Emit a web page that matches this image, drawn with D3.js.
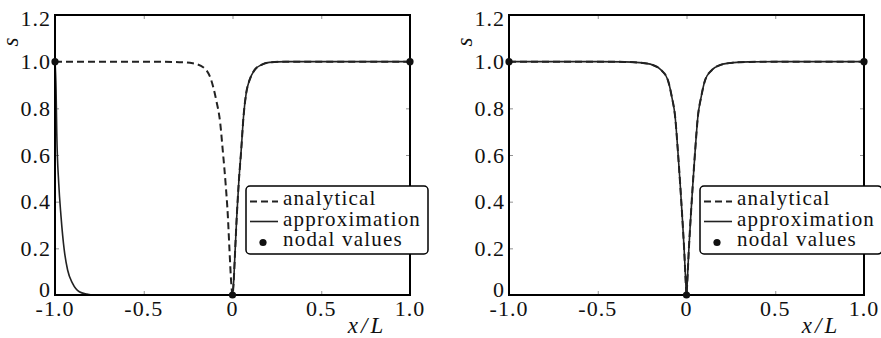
<!DOCTYPE html>
<html>
<head>
<meta charset="utf-8">
<script src="https://cdn.jsdelivr.net/npm/d3@7"></script>
<style>
  body { margin: 0; background: #fff; }
</style>
</head>
<body>
<div id="chart"></div>
<script>
// ticks
var xTicks = [-1, -0.5, 0, 0.5, 1];
var xTickLabels = ["-1.0", "-0.5", "0", "0.5", "1.0"];
var yTicks = [0, 0.2, 0.4, 0.6, 0.8, 1.0, 1.2];
var yTickLabels = ["0", "0.2", "0.4", "0.6", "0.8", "1.0", "1.2"];

// left panel: analytical (dashed) and approximation (solid); they coincide for x > 0
var leftAnaX = [-1, -0.5, -0.3, -0.224, -0.158, -0.12, -0.092, -0.069, -0.055, -0.039, -0.026, -0.017, -0.007, 0,
                0.006, 0.015, 0.024, 0.035, 0.049, 0.062, 0.077, 0.096, 0.124, 0.162, 0.208, 0.3, 0.5, 1];
var leftAnaS = [1, 1, 0.998, 0.993, 0.972, 0.921, 0.836, 0.736, 0.621, 0.479, 0.336, 0.193, 0.05, 0,
                0.05, 0.193, 0.336, 0.479, 0.621, 0.764, 0.864, 0.921, 0.964, 0.986, 0.997, 1, 1, 1];
var leftAppX = [-1, -0.994, -0.99, -0.979, -0.966, -0.948, -0.929, -0.901, -0.863, -0.82, -0.788, -0.5, 0,
                0.006, 0.015, 0.024, 0.035, 0.049, 0.062, 0.077, 0.096, 0.124, 0.162, 0.208, 0.3, 0.5, 1];
var leftAppS = [1, 0.879, 0.693, 0.479, 0.336, 0.193, 0.107, 0.05, 0.014, 0.004, 0, 0, 0,
                0.05, 0.193, 0.336, 0.479, 0.621, 0.764, 0.864, 0.921, 0.964, 0.986, 0.997, 1, 1, 1];

// right panel: both curves lie on top of each other
var rightAnaX = [-1, -0.5, -0.35, -0.265, -0.19, -0.143, -0.105, -0.083, -0.064, -0.049, -0.036, -0.024, -0.013, -0.004, 0,
                 0.004, 0.013, 0.024, 0.036, 0.049, 0.064, 0.083, 0.105, 0.143, 0.19, 0.265, 0.35, 0.5, 1];
var rightAnaS = [1, 1, 0.999, 0.996, 0.986, 0.964, 0.921, 0.85, 0.764, 0.621, 0.479, 0.336, 0.193, 0.05, 0,
                 0.05, 0.193, 0.336, 0.479, 0.621, 0.764, 0.85, 0.921, 0.964, 0.986, 0.996, 0.999, 1, 1];
var rightAppX = rightAnaX;
var rightAppS = [1, 1, 0.999, 0.996, 0.986, 0.964, 0.921, 0.85, 0.764, 0.621, 0.479, 0.336, 0.193, 0.05, 0,
                 0.05, 0.193, 0.336, 0.479, 0.621, 0.764, 0.85, 0.921, 0.964, 0.986, 0.996, 0.999, 1, 1];

// nodal values
var nodeX = [-1, 0, 1];
var nodeS = [1, 0, 1];

var legendLabels = ["analytical", "approximation", "nodal values"];

var width = 881, height = 338;
var plotTop = 15, plotBottom = 295;
var serif = "'Liberation Serif', 'Times New Roman'";

var svg = d3.select('#chart').append('svg')
    .attr('width', width)
    .attr('height', height)
    .style('background', '#fff');

function zip(xs, ys) {
  return xs.map(function(x, i) { return [x, ys[i]]; });
}

function drawPanel(x0, x1, ana, app) {
  var x = d3.scaleLinear().domain([-1, 1]).range([x0, x1]);
  var y = d3.scaleLinear().domain([0, 1.2]).range([plotBottom, plotTop]);
  var g = svg.append('g');

  // inward ticks on all four sides
  g.append('g').attr('transform', 'translate(0,' + plotBottom + ')')
    .call(d3.axisBottom(x).tickValues(xTicks).tickSize(-4).tickFormat(''));
  g.append('g').attr('transform', 'translate(0,' + plotTop + ')')
    .call(d3.axisTop(x).tickValues(xTicks).tickSize(-4).tickFormat(''));
  g.append('g').attr('transform', 'translate(' + x0 + ',0)')
    .call(d3.axisLeft(y).tickValues(yTicks).tickSize(-4).tickFormat(''));
  g.append('g').attr('transform', 'translate(' + x1 + ',0)')
    .call(d3.axisRight(y).tickValues(yTicks).tickSize(-4).tickFormat(''));
  g.selectAll('.domain').remove();
  g.selectAll('.tick line').attr('stroke', '#777').attr('stroke-width', 0.8);

  var line = d3.line()
      .x(function(d) { return x(d[0]); })
      .y(function(d) { return y(d[1]); })
      .curve(d3.curveMonotoneX);

  g.append('path').datum(ana)
    .attr('d', line)
    .attr('fill', 'none')
    .attr('stroke', '#222')
    .attr('stroke-width', 2)
    .attr('stroke-dasharray', '7,4');

  g.append('path').datum(app)
    .attr('d', line)
    .attr('fill', 'none')
    .attr('stroke', '#222')
    .attr('stroke-width', 1.6);

  // frame
  g.append('rect')
    .attr('x', x0).attr('y', plotTop)
    .attr('width', x1 - x0).attr('height', plotBottom - plotTop)
    .attr('fill', 'none')
    .attr('stroke', '#000')
    .attr('stroke-width', 2);

  g.selectAll('circle.node')
    .data(zip(nodeX, nodeS)).enter()
    .append('circle')
      .attr('cx', function(d) { return x(d[0]); })
      .attr('cy', function(d) { return y(d[1]); })
      .attr('r', 3.6)
      .attr('fill', '#111');

  // tick labels
  g.selectAll('text.xl')
    .data(xTicks).enter()
    .append('text')
      .attr('x', function(d) { return x(d); })
      .attr('y', 316)
      .attr('text-anchor', 'middle')
      .style('font-family', serif)
      .style('font-size', '22px')
      .style('letter-spacing', '1px')
      .style('fill', '#111')
      .text(function(d, i) { return xTickLabels[i]; });

  g.selectAll('text.yl')
    .data(yTicks).enter()
    .append('text')
      .attr('x', x0 - 4)
      .attr('y', function(d) {
        var off = d === 0 ? -6 : (d === 1.2 ? 3 : 0);
        return y(d) + 7.5 + off;
      })
      .attr('text-anchor', 'end')
      .style('font-family', serif)
      .style('font-size', '22px')
      .style('letter-spacing', '1px')
      .style('fill', '#111')
      .text(function(d, i) { return yTickLabels[i]; });

  // axis labels
  g.append('text')
    .attr('x', x1 - 43)
    .attr('y', 333)
    .attr('text-anchor', 'middle')
    .style('font-family', serif)
    .style('font-size', '23px')
    .style('font-style', 'italic')
    .style('letter-spacing', '3px')
    .style('fill', '#111')
    .text('x/L');

  g.append('text')
    .attr('transform', 'translate(' + (x0 - 37) + ',42) rotate(-90)')
    .attr('text-anchor', 'middle')
    .style('font-family', serif)
    .style('font-size', '23px')
    .style('font-style', 'italic')
    .style('fill', '#111')
    .text('s');

  // legend
  var lx = x0 + 191, ly = 186;
  var lg = g.append('g').attr('transform', 'translate(' + lx + ',' + ly + ')');
  lg.append('rect')
    .attr('width', 182).attr('height', 68)
    .attr('rx', 4).attr('ry', 4)
    .attr('fill', '#fff')
    .attr('stroke', '#000')
    .attr('stroke-width', 1.5);
  lg.append('line')
    .attr('x1', 4).attr('x2', 32).attr('y1', 15.5).attr('y2', 15.5)
    .attr('stroke', '#222').attr('stroke-width', 2).attr('stroke-dasharray', '7,4');
  lg.append('line')
    .attr('x1', 4).attr('x2', 32).attr('y1', 35.5).attr('y2', 35.5)
    .attr('stroke', '#222').attr('stroke-width', 1.6);
  lg.append('circle')
    .attr('cx', 17).attr('cy', 56.5).attr('r', 3.6).attr('fill', '#111');
  lg.selectAll('text.leg')
    .data(legendLabels).enter()
    .append('text')
      .attr('x', 37)
      .attr('y', function(d, i) { return 19 + i * 20.5; })
      .style('font-family', serif)
      .style('font-size', '21px')
      .style('letter-spacing', '1.2px')
      .style('fill', '#111')
      .text(function(d) { return d; });
}

drawPanel(55, 410, zip(leftAnaX, leftAnaS), zip(leftAppX, leftAppS));
drawPanel(509, 864, zip(rightAnaX, rightAnaS), zip(rightAppX, rightAppS));
</script>
</body>
</html>
